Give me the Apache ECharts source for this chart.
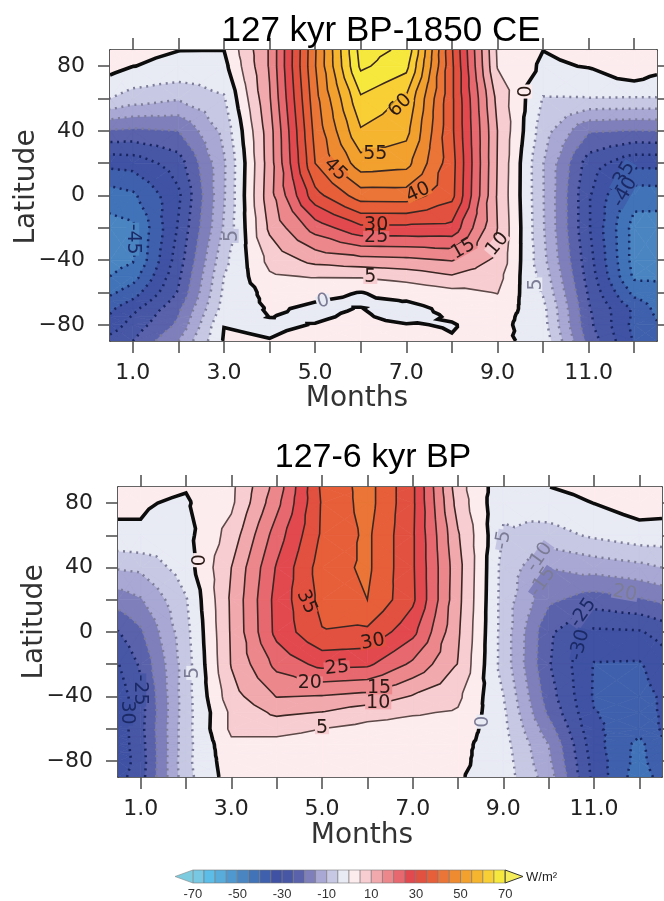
<!DOCTYPE html>
<html><head><meta charset="utf-8">
<style>html,body{margin:0;padding:0;background:#fff}#c{width:664px;height:901px;filter:blur(0.45px)}</style>
<script src="https://cdn.jsdelivr.net/npm/echarts@6/dist/echarts.min.js"></script>
</head><body><div id="c"></div>
<script>
const months=[0.5,1,2,3,4,5,6,7,8,9,10,11,12,12.5];
const lats=[90,80,60,40,20,0,-20,-40,-50,-60,-65,-70,-75,-80,-90];
const xTicks=[1,2,3,4,5,6,7,8,9,10,11,12];
const xTickLabels=[1,3,5,7,9,11];
const yTicks=[-80,-60,-40,-20,0,20,40,60,80];
const yTickLabels=[-80,-40,0,40,80];
const barTickLabels=[-70,-50,-30,-10,10,30,50,70];
const titleA='127 kyr BP-1850 CE';
const titleB='127-6 kyr BP';
const xName='Months';
const yName='Latitude';
const unit='W/m\u00B2';

const anomalyA=[
[2,0.6,0.05,0.02,15.5,44.5,72,69,35.5,4.3,0.05,1.5,2,2],
[1.9,0.05,-0.7,-1.5,15.5,44.7,71,66.5,36,4.7,-0.8,0.26,4.5,1.9],
[-5,-7.3,-9.5,-5.5,14.5,43.2,64.2,59.2,36,8.5,-5.3,-5.2,-5.3,-5.3],
[-20.5,-21,-20,-8.5,12.8,41.6,59.5,56.5,36,10,-7.6,-19.5,-20.3,-20],
[-33.5,-33,-27.5,-10.7,12.5,40,52.8,51.7,37,9.8,-9.8,-27.5,-33.5,-33.5],
[-42.5,-41,-31,-10.5,13,33.2,42.5,42.7,36.5,9.5,-9.7,-29.5,-43,-42.7],
[-47,-46,-29.5,-9.5,11,22.2,28.8,28.8,28.5,10,-9.5,-29.5,-47,-47.5],
[-47,-45.5,-27.5,-6.5,6.5,11.6,13.2,13.8,15.3,8.8,-8.5,-28,-47,-47.5],
[-45,-42.3,-26,-5,4.3,5.4,5.5,7,9.5,6.8,-7,-27,-46,-46],
[-41,-37.5,-24.5,-4,1.5,1,-0.1,1.5,3.5,5.2,-5.5,-25.6,-41.5,-43],
[-38.5,-34.5,-23,-3.5,1,0.1,-0.5,0.1,2.2,4,-4.5,-25,-39,-42],
[-36,-31.5,-21,-3,0.4,-0.5,0.1,-1.5,1.2,3,-3.5,-24.5,-36,-41.5],
[-34.5,-29.5,-20,-1.5,0.05,-0.4,0.5,-1.2,0.35,2,-3.2,-24,-36,-40.5],
[-33,-28,-19,-0.1,-0.5,0.1,1,0.2,-0.2,1.5,-3,-23.7,-36.5,-39.5],
[-28,-25,-15,0.5,0.1,1,1.5,1,0.2,1,-1.5,-21.8,-35.5,-38]
];
const anomalyB=[
[1,1,0.3,3.8,17,36,42,31,7,-3.5,-0.05,1.5,2,2],
[0.8,0.3,-0.5,4,18.5,35.5,42,31,8,-4.5,-2,0.05,2.4,2],
[-0.8,-0.3,-1.6,7,22.5,35.8,41,30.7,10.5,-5.3,-7,-4.2,-2.2,-2.2],
[-9.5,-8.9,-2.4,10,25.5,37.5,41,30.7,11.7,-6.8,-14.8,-13,-11.4,-10],
[-17.8,-15.5,-5.4,10.8,26.8,36.5,40,31,11.4,-7,-19,-22.5,-20.6,-19],
[-25.3,-20.8,-6.5,10.6,26.5,34.7,34,26.5,10.7,-7,-24,-31,-30.5,-28.2],
[-30.3,-24.2,-7.3,10.3,21.5,26.5,26,19,9.8,-7,-24.6,-35.3,-35.5,-32.5],
[-33,-26.5,-7,8,15.2,14.7,13.4,9.6,6,-4.9,-22.7,-35.5,-36.5,-34.5],
[-33.5,-27,-7,6,11,9.8,7,5.5,4.5,-4,-21,-34.8,-37,-34.5],
[-33,-26.5,-6.7,6,6.8,5,3.5,3,3,-3.5,-18,-34,-38.5,-34.5],
[-33,-26.8,-6.7,5,5,3.7,2.5,2,2.2,-3.2,-16.5,-33.5,-40,-35],
[-33,-27,-6.7,4,3,2.5,1.5,1.2,1.5,-3,-15,-33,-41.5,-35.5],
[-33.2,-27.2,-6.5,3.5,2.2,1.7,1,0.8,1.2,-2.7,-14.5,-32.5,-41.8,-35.8],
[-33.5,-27.5,-6.2,3,1.5,1,0.5,0.5,1,-2.5,-14,-32,-42,-36],
[-32,-27,-6.6,2.5,1,0.7,0.5,0.5,0.4,-2.2,-12.5,-31.5,-43,-38]
];
// band lower bounds and colours of the colour bar
const bandLevels=[-70,-65,-60,-55,-50,-45,-40,-35,-30,-25,-20,-15,-10,-5,0,5,10,15,20,25,30,35,40,45,50,55,60,65];
const bandColors=['#78c8e4','#5bbde8','#58acdc','#4f97cf','#4a85c2','#4073b8','#3f60ac','#3f52a3','#4756a5','#5a62ab','#7f80bb','#a9a8d4','#c7c8e3','#e8eaf4','#fdecee','#f8cdd1','#f2a9ae','#ec878c','#e7686e','#e2494f','#e2503f','#e75f39','#ea7536','#ee8b31','#f2a02e','#f6b52f','#f8cf35','#f6e83c'];
const lineLevels=[-45,-40,-35,-30,-25,-20,-15,-10,-5,0,5,10,15,20,25,30,35,40,45,50,55,60,65,70];
// [month, latitude, text, rotation]
const labelsA=[[5.44,16,'45',-45],[6.32,25.4,'55',0],[6.87,55.7,'60',45],[7.26,1.9,'40',25],[6.34,-18,'30',0],[6.34,-26,'25',0],[8.25,-33,'15',30],[9,-30,'10',50],[6.21,-50.7,'5',0],[5.18,-65.5,'0',15],[9.62,64.3,'0',90],[3.18,-25,'5',90],[9.84,-55,'5',90],[1,-27,'-45',-90],[11.75,11.7,'-35',60],[11.8,2,'-40',60]];
const labelsB=[[2.3,44.6,'0',90],[4.66,18.6,'35',-65],[6.12,-6.2,'30',10],[5.33,-22.3,'25',5],[4.73,-31.6,'20',0],[6.26,-34.7,'15',0],[6.24,-44,'10',0],[5,-59.4,'5',0],[2.15,-25.4,'5',90],[0.98,-36,'-25',-90],[0.69,-50,'30',-90],[8.55,-55.7,'0',90],[9,57,'-5',80],[9.8,46.4,'-10',55],[9.87,31,'-15',55],[11.68,24,'20',-10],[10.76,11.8,'-25',55],[10.69,-8,'-30',75]];

function buildTris(vals){
  const tris=[];
  for(let r=0;r<lats.length-1;r++)for(let c=0;c<months.length-1;c++){
    const A=[months[c],lats[r],vals[r][c]],B=[months[c+1],lats[r],vals[r][c+1]],
          C=[months[c+1],lats[r+1],vals[r+1][c+1]],D=[months[c],lats[r+1],vals[r+1][c]];
    const E=[(A[0]+B[0])/2,(A[1]+D[1])/2,(A[2]+B[2]+C[2]+D[2])/4];
    tris.push([A,B,E],[B,C,E],[C,D,E],[D,A,E]);
  }
  return tris;
}
function cross(a,b,L){const t=(L-a[2])/(b[2]-a[2]);return [a[0]+t*(b[0]-a[0]),a[1]+t*(b[1]-a[1])];}
function clipAbove(t,L){
  const out=[];
  for(let i=0;i<3;i++){const a=t[i],b=t[(i+1)%3];
    if(a[2]>=L)out.push([a[0],a[1]]);
    if((a[2]>=L)!==(b[2]>=L))out.push(cross(a,b,L));}
  return out;
}
function chains(tris,L){
  const segs=[];
  tris.forEach(t=>{const p=[];
    for(let i=0;i<3;i++){const a=t[i],b=t[(i+1)%3];if((a[2]>=L)!==(b[2]>=L))p.push(cross(a,b,L));}
    if(p.length===2)segs.push(p);});
  const key=p=>p[0].toFixed(4)+','+p[1].toFixed(4),map={};
  segs.forEach((s,i)=>s.forEach(p=>{(map[key(p)]=map[key(p)]||[]).push(i);}));
  const used=segs.map(()=>false),res=[];
  const walk=(line,from)=>{let cur=from;
    for(;;){const nx=(map[key(cur)]||[]).find(i=>!used[i]);
      if(nx===undefined)break;used[nx]=true;
      const s=segs[nx],nextP=key(s[0])===key(cur)?s[1]:s[0];line.push(nextP);cur=nextP;}
    return line;};
  segs.forEach((s,i)=>{if(used[i])return;used[i]=true;
    const f=walk([s[0],s[1]],s[1]);const b=walk([],s[0]);res.push(b.reverse().concat(f));});
  return res;
}
function sample(vals,m,lat){
  let c=0,r=0;
  while(c<months.length-2&&m>months[c+1])c++;
  while(r<lats.length-2&&lat<lats[r+1])r++;
  const u=(m-months[c])/(months[c+1]-months[c]),w=(lat-lats[r])/(lats[r+1]-lats[r]);
  return (vals[r][c]*(1-u)+vals[r][c+1]*u)*(1-w)+(vals[r+1][c]*(1-u)+vals[r+1][c+1]*u)*w;
}
function bandColor(v){let i=0;while(i<bandLevels.length-1&&v>=bandLevels[i+1])i++;return bandColors[i];}
function lineStyle(L){
  if(L===0)return {stroke:'#0c0c0c',lineWidth:3.6,fill:null};
  if(L>0)return {stroke:L===5?'#5d4a48':'#3a2723',lineWidth:1.6,fill:null};
  return {stroke:L>=-20?'#7d7d9a':'#16245f',lineWidth:2.5,lineDash:[2,4.6],fill:null};
}
function panelSeries(idx,vals,labels){
  const tris=buildTris(vals);
  const base={type:'custom',coordinateSystem:'cartesian2d',xAxisIndex:idx*2,yAxisIndex:idx*2,silent:true,animation:false,clip:true};
  const fills=Object.assign({},base,{z:1,data:bandLevels.map(L=>[6,0,L]),
    renderItem(p,api){
      const i=p.dataIndex,L=bandLevels[i],next=i<bandLevels.length-1?bandLevels[i+1]:Infinity,col=bandColors[i],children=[];
      tris.forEach(t=>{
        if(Math.min(t[0][2],t[1][2],t[2][2])>=next)return;
        const poly=clipAbove(t,i===0?-Infinity:L);
        if(poly.length<3)return;
        children.push({type:'polygon',shape:{points:poly.map(q=>api.coord(q))},style:{fill:col,stroke:col,lineWidth:0.7}});
      });
      return {type:'group',children};
    }});
  const lines=Object.assign({},base,{z:2,data:lineLevels.map(L=>[6,0,L]),
    renderItem(p,api){
      const L=lineLevels[p.dataIndex];
      return {type:'group',children:chains(tris,L).map(ch=>({type:'polyline',shape:{points:ch.map(q=>api.coord(q))},style:lineStyle(L)}))};
    }});
  const texts=Object.assign({},base,{z:3,clip:false,data:labels.map(l=>[l[0],l[1]]),
    renderItem(p,api){
      const l=labels[p.dataIndex],q=api.coord([l[0],l[1]]);
      const v=sample(vals,l[0],l[1]);
      const light=v<0&&v>-21;
      return {type:'text',x:q[0],y:q[1],rotation:l[3]*Math.PI/180,
        style:{text:l[2],font:'19px "DejaVu Sans"',fill:light?'#7c7c96':(v<0?'#1b2a66':'#2a1a16'),align:'center',verticalAlign:'middle',
          backgroundColor:bandColor(v),lineHeight:13,padding:[0,1]}};
    }});
  return [fills,lines,texts];
}
const tickFont={fontFamily:'DejaVu Sans',fontSize:22,color:'#222'};
const axisLn={show:true,lineStyle:{color:'#333',width:1.6}};
function axesFor(gi){
  const x=(pos,show)=>({type:'value',gridIndex:gi,position:pos,min:0.5,max:12.5,splitLine:{show:false},axisLine:Object.assign({onZero:false},axisLn),
    axisTick:{show:true,length:12,customValues:xTicks,lineStyle:{color:'#555',width:1.6}},
    axisLabel:{show,customValues:xTickLabels,margin:21,formatter:v=>v.toFixed(1),fontFamily:tickFont.fontFamily,fontSize:tickFont.fontSize,color:tickFont.color}});
  const y=(pos,show)=>({type:'value',gridIndex:gi,position:pos,min:-90,max:90,splitLine:{show:false},axisLine:Object.assign({onZero:false},axisLn),
    axisTick:{show:true,length:pos==='left'?12:7,customValues:yTicks,lineStyle:{color:'#555',width:1.6}},
    axisLabel:{show,customValues:yTickLabels,margin:25,formatter:v=>v<0?'\u2212'+(-v):''+v,fontFamily:tickFont.fontFamily,fontSize:tickFont.fontSize,color:tickFont.color}});
  return {xs:[x('bottom',true),x('top',false)],ys:[y('left',true),y('right',false)]};
}
const a=axesFor(0),b=axesFor(1);
const barSeries={type:'custom',coordinateSystem:'cartesian2d',xAxisIndex:4,yAxisIndex:4,silent:true,animation:false,clip:false,z:2,
  data:bandLevels.map(L=>[L,0]),
  renderItem(p,api){
    const i=p.dataIndex,lo=bandLevels[i],hi=lo+5;
    const pts=[[lo,0],[hi,0],[hi,1],[lo,1]].map(q=>api.coord(q));
    const kids=[{type:'polygon',shape:{points:pts},style:{fill:bandColors[i],stroke:'#777',lineWidth:0.6}}];
    if(i===0)kids.push({type:'polygon',shape:{points:[[lo,0],[lo,1],[-78,0.5]].map(q=>api.coord(q))},style:{fill:'#7ccbdf',stroke:'#888',lineWidth:0.6}});
    if(i===bandLevels.length-1)kids.push({type:'polygon',shape:{points:[[hi,0],[hi,1],[78,0.5]].map(q=>api.coord(q))},style:{fill:'#f4ec5a',stroke:'#333',lineWidth:1}});
    return {type:'group',children:kids};
  }};
const nameText=(text,x,y,rot)=>({type:'text',x,y,rotation:rot,style:{text,font:'28px "DejaVu Sans"',fill:'#333',align:'center',verticalAlign:'middle'}});
const option={
  animation:false,backgroundColor:'#fff',
  title:[
    {text:titleA,left:376,top:9,textAlign:'center',textStyle:{fontFamily:'Liberation Sans',fontSize:35,fontWeight:'normal',color:'#000'}},
    {text:titleB,left:368,top:436,textAlign:'center',textStyle:{fontFamily:'Liberation Sans',fontSize:34,fontWeight:'normal',color:'#000'}}
  ],
  grid:[
    {left:110,top:50,width:547,height:291},
    {left:118,top:487,width:544,height:290},
    {left:175,top:870,width:348,height:13}
  ],
  xAxis:[...a.xs,...b.xs,{type:'value',gridIndex:2,min:-78,max:78,position:'bottom',splitLine:{show:false},axisLine:{show:false},axisTick:{show:false},
    axisLabel:{customValues:barTickLabels,margin:5,fontFamily:'Liberation Sans',fontSize:13,color:'#333'}}],
  yAxis:[...a.ys,...b.ys,{type:'value',gridIndex:2,min:0,max:1,show:false}],
  series:[...panelSeries(0,anomalyA,labelsA),...panelSeries(1,anomalyB,labelsB),barSeries],
  graphic:[
    nameText(xName,357,399,0),nameText(xName,362,836,0),
    nameText(yName,27,187,Math.PI/2),nameText(yName,35,622,Math.PI/2),
    {type:'text',x:526,y:871,style:{text:unit,font:'13px "Liberation Sans"',fill:'#222'}}
  ]
};
const chart=echarts.init(document.getElementById('c'),null,{renderer:'canvas'});
chart.setOption(option);
</script></body></html>
